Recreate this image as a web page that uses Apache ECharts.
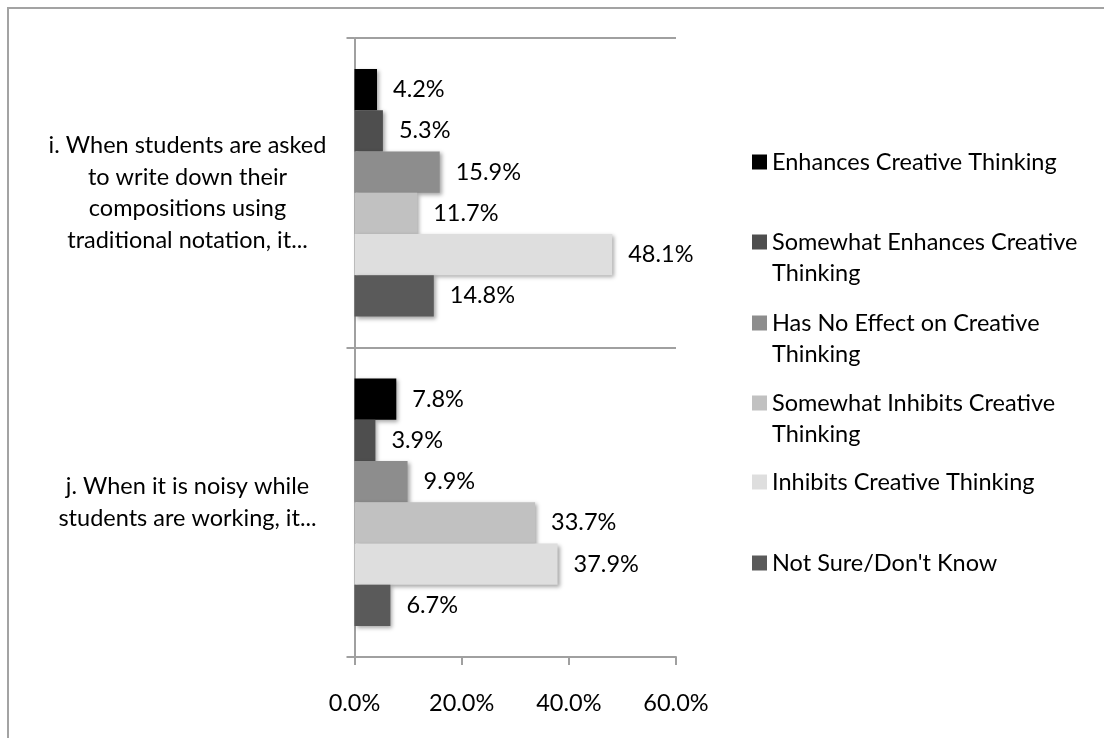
<!DOCTYPE html>
<html>
<head>
<meta charset="utf-8">
<script src="https://cdn.jsdelivr.net/npm/echarts@6/dist/echarts.min.js"></script>
<style>
html,body{margin:0;padding:0;background:#fff;}
#c{width:1104px;height:738px;}
</style>
</head>
<body>
<div id="c"></div>
<script>
// ---- data ----
const categories = [
  'i. When students are asked\nto write down their\ncompositions using\ntraditional notation, it...',
  'j. When it is noisy while\nstudents are working, it...'
];
const seriesNames = [
  'Enhances Creative Thinking',
  'Somewhat Enhances Creative Thinking',
  'Has No Effect on Creative Thinking',
  'Somewhat Inhibits Creative Thinking',
  'Inhibits Creative Thinking',
  "Not Sure/Don't Know"
];
const legendLabels = [
  'Enhances Creative Thinking',
  'Somewhat Enhances Creative\nThinking',
  'Has No Effect on Creative\nThinking',
  'Somewhat Inhibits Creative\nThinking',
  'Inhibits Creative Thinking',
  "Not Sure/Don't Know"
];
const enhances          = [4.2, 7.8];
const somewhatEnhances  = [5.3, 3.9];
const noEffect          = [15.9, 9.9];
const somewhatInhibits  = [11.7, 33.7];
const inhibits          = [48.1, 37.9];
const notSure           = [14.8, 6.7];
const xTicks = [0, 20, 40, 60];

// ---- styling ----
const seriesValues = [enhances, somewhatEnhances, noEffect, somewhatInhibits, inhibits, notSure];
const colors = ['#000000', '#4e4e4e', '#8d8d8d', '#c1c1c1', '#dedede', '#5a5a5a'];
const FONT = 'Lato';
const FS = 23.5;
const legendFirstLineY = [162, 242, 323, 403, 482, 563];
const LH = 31;

const chart = echarts.init(document.getElementById('c'), null, {renderer: 'canvas'});

const legends = seriesNames.map((n, i) => {
  const lines = legendLabels[i].split('\n').length;
  const blockLines = lines === 1 ? 1 : 3;
  return {
    data: [n],
    left: 752,
    top: legendFirstLineY[i] - (blockLines * LH) / 2,
    orient: 'vertical',
    icon: 'rect',
    itemWidth: 15,
    itemHeight: 15,
    selectedMode: false,
    padding: 0,
    formatter: () => lines === 1 ? legendLabels[i] : '\n' + legendLabels[i],
    textStyle: {fontFamily: FONT, fontSize: FS, color: '#000', lineHeight: LH}
  };
});

const option = {
  animation: false,
  backgroundColor: '#fff',
  graphic: [{
    type: 'rect', z: -10, silent: true,
    shape: {x: 8, y: 8, width: 1200, height: 800},
    style: {fill: 'none', stroke: '#a3a3a3', lineWidth: 2}
  }],
  legend: legends,
  grid: {left: 354.5, right: 428, top: 38, bottom: 81, containLabel: false},
  xAxis: {
    type: 'value', min: xTicks[0], max: xTicks[xTicks.length - 1], interval: 20,
    axisLine: {show: true, lineStyle: {color: '#a0a0a0', width: 2}},
    axisTick: {show: true, length: 8, lineStyle: {color: '#a0a0a0', width: 2}},
    splitLine: {show: false},
    axisLabel: {margin: 34, fontFamily: FONT, fontSize: FS, color: '#000',
      formatter: v => v.toFixed(1) + '%'}
  },
  yAxis: {
    type: 'category', inverse: true, data: categories,
    axisLine: {show: true, lineStyle: {color: '#a0a0a0', width: 2}},
    axisTick: {show: true, length: 8, interval: 0, lineStyle: {color: '#a0a0a0', width: 2}},
    splitLine: {show: true, interval: 0, lineStyle: {color: '#a0a0a0', width: 2}},
    axisLabel: {margin: 167, align: 'center', fontFamily: FONT, fontSize: FS, color: '#000', lineHeight: 31.5, interval: 0}
  },
  series: seriesNames.map((n, i) => ({
    name: n, type: 'bar', data: seriesValues[i],
    barGap: '0%', barCategoryGap: '20%',
    itemStyle: {color: colors[i], shadowColor: 'rgba(0,0,0,0.35)', shadowBlur: 4, shadowOffsetX: 2, shadowOffsetY: 2},
    label: {show: true, position: 'right', distance: 16, fontFamily: FONT, fontSize: FS, color: '#000',
      formatter: p => p.value.toFixed(1) + '%'}
  }))
};
chart.setOption(option);
</script>
</body>
</html>
